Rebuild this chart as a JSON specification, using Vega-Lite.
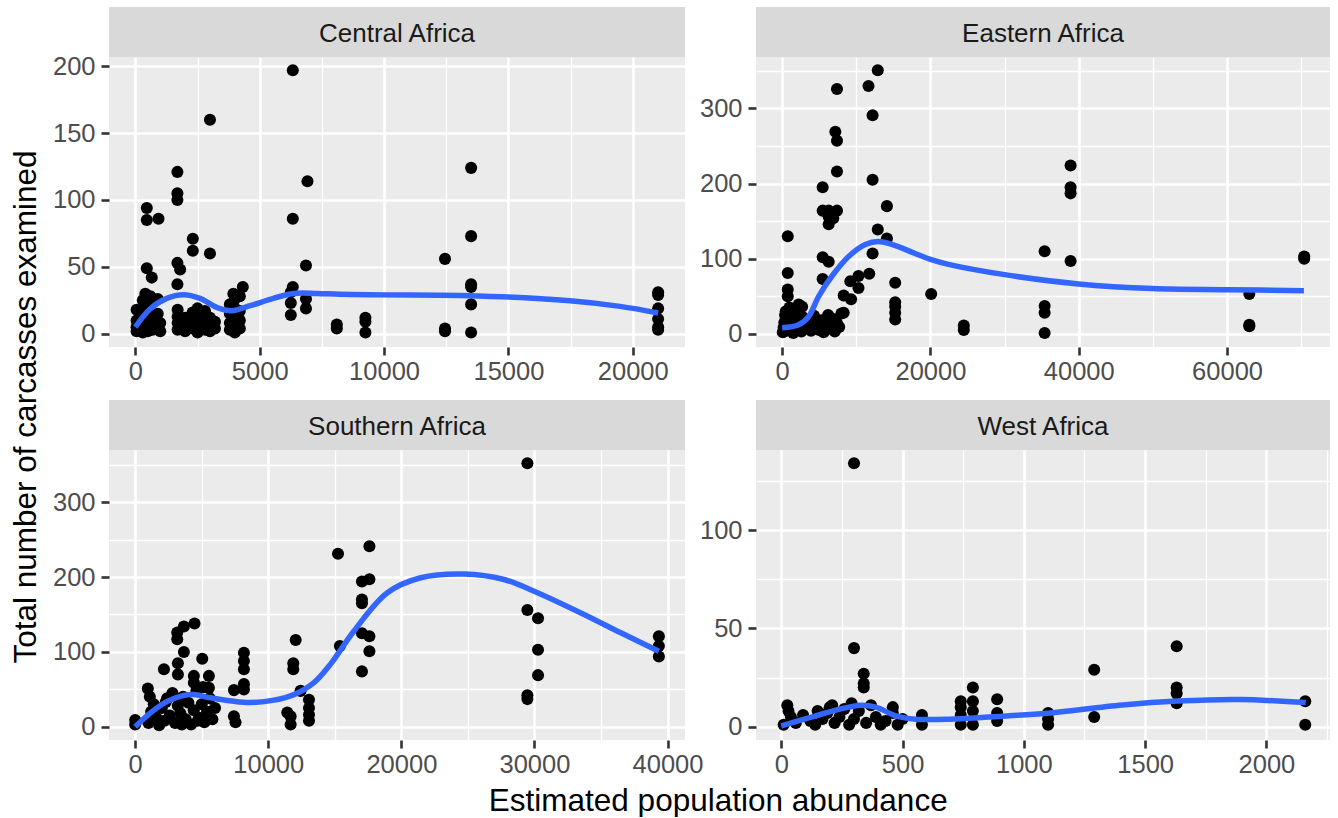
{
  "$schema": "https://vega.github.io/schema/vega-lite/v6.json",
  "padding": {"left": 10, "top": 7, "right": 5, "bottom": 0},
  "background": "white",
  "title": {"text": "Total number of carcasses examined", "orient": "left", "offset": 10, "dx": 5},
  "datasets": {
    "pts": [
      {"region": "Central Africa", "x": 6330, "y": 197}, {"region": "Central Africa", "x": 3000, "y": 160},
      {"region": "Central Africa", "x": 1690, "y": 121}, {"region": "Central Africa", "x": 1690, "y": 105},
      {"region": "Central Africa", "x": 1690, "y": 100}, {"region": "Central Africa", "x": 6920, "y": 114},
      {"region": "Central Africa", "x": 460, "y": 94}, {"region": "Central Africa", "x": 460, "y": 85},
      {"region": "Central Africa", "x": 930, "y": 86}, {"region": "Central Africa", "x": 6330, "y": 86},
      {"region": "Central Africa", "x": 2310, "y": 71}, {"region": "Central Africa", "x": 2310, "y": 62},
      {"region": "Central Africa", "x": 3000, "y": 60}, {"region": "Central Africa", "x": 1690, "y": 53},
      {"region": "Central Africa", "x": 1800, "y": 48}, {"region": "Central Africa", "x": 6860, "y": 51},
      {"region": "Central Africa", "x": 460, "y": 49}, {"region": "Central Africa", "x": 660, "y": 42},
      {"region": "Central Africa", "x": 1690, "y": 37}, {"region": "Central Africa", "x": 4320, "y": 35},
      {"region": "Central Africa", "x": 3940, "y": 30}, {"region": "Central Africa", "x": 6330, "y": 35},
      {"region": "Central Africa", "x": 6250, "y": 31}, {"region": "Central Africa", "x": 6250, "y": 23},
      {"region": "Central Africa", "x": 6250, "y": 14}, {"region": "Central Africa", "x": 6860, "y": 26},
      {"region": "Central Africa", "x": 6860, "y": 19}, {"region": "Central Africa", "x": 8100, "y": 4},
      {"region": "Central Africa", "x": 8100, "y": 7}, {"region": "Central Africa", "x": 9250, "y": 12},
      {"region": "Central Africa", "x": 9250, "y": 9}, {"region": "Central Africa", "x": 9250, "y": 1},
      {"region": "Central Africa", "x": 12450, "y": 56}, {"region": "Central Africa", "x": 12450, "y": 2},
      {"region": "Central Africa", "x": 12450, "y": 4}, {"region": "Central Africa", "x": 13500, "y": 124},
      {"region": "Central Africa", "x": 13500, "y": 73}, {"region": "Central Africa", "x": 13500, "y": 37},
      {"region": "Central Africa", "x": 13500, "y": 35}, {"region": "Central Africa", "x": 13500, "y": 22},
      {"region": "Central Africa", "x": 13500, "y": 1}, {"region": "Central Africa", "x": 21020, "y": 31},
      {"region": "Central Africa", "x": 21020, "y": 29}, {"region": "Central Africa", "x": 21020, "y": 19},
      {"region": "Central Africa", "x": 21020, "y": 11}, {"region": "Central Africa", "x": 21020, "y": 5},
      {"region": "Central Africa", "x": 21020, "y": 3},
      {"region": "Central Africa", "x": 50, "y": 2}, {"region": "Central Africa", "x": 50, "y": 5},
      {"region": "Central Africa", "x": 50, "y": 10}, {"region": "Central Africa", "x": 50, "y": 18},
      {"region": "Central Africa", "x": 200, "y": 3}, {"region": "Central Africa", "x": 200, "y": 8},
      {"region": "Central Africa", "x": 200, "y": 14}, {"region": "Central Africa", "x": 300, "y": 1},
      {"region": "Central Africa", "x": 300, "y": 6}, {"region": "Central Africa", "x": 300, "y": 25},
      {"region": "Central Africa", "x": 400, "y": 4}, {"region": "Central Africa", "x": 400, "y": 12},
      {"region": "Central Africa", "x": 400, "y": 20}, {"region": "Central Africa", "x": 400, "y": 30},
      {"region": "Central Africa", "x": 500, "y": 2}, {"region": "Central Africa", "x": 500, "y": 9},
      {"region": "Central Africa", "x": 500, "y": 16}, {"region": "Central Africa", "x": 600, "y": 5},
      {"region": "Central Africa", "x": 600, "y": 22}, {"region": "Central Africa", "x": 600, "y": 28},
      {"region": "Central Africa", "x": 700, "y": 3}, {"region": "Central Africa", "x": 700, "y": 11},
      {"region": "Central Africa", "x": 900, "y": 6}, {"region": "Central Africa", "x": 900, "y": 15},
      {"region": "Central Africa", "x": 900, "y": 26}, {"region": "Central Africa", "x": 1000, "y": 2},
      {"region": "Central Africa", "x": 1000, "y": 8}, {"region": "Central Africa", "x": 1700, "y": 3},
      {"region": "Central Africa", "x": 1700, "y": 8}, {"region": "Central Africa", "x": 1700, "y": 13},
      {"region": "Central Africa", "x": 1700, "y": 18}, {"region": "Central Africa", "x": 2000, "y": 2},
      {"region": "Central Africa", "x": 2000, "y": 6}, {"region": "Central Africa", "x": 2000, "y": 12},
      {"region": "Central Africa", "x": 2300, "y": 4}, {"region": "Central Africa", "x": 2300, "y": 9},
      {"region": "Central Africa", "x": 2300, "y": 16}, {"region": "Central Africa", "x": 2500, "y": 1},
      {"region": "Central Africa", "x": 2500, "y": 7}, {"region": "Central Africa", "x": 2500, "y": 14},
      {"region": "Central Africa", "x": 2500, "y": 19}, {"region": "Central Africa", "x": 2800, "y": 3},
      {"region": "Central Africa", "x": 2800, "y": 10}, {"region": "Central Africa", "x": 2800, "y": 17},
      {"region": "Central Africa", "x": 3000, "y": 2}, {"region": "Central Africa", "x": 3000, "y": 6},
      {"region": "Central Africa", "x": 3000, "y": 12}, {"region": "Central Africa", "x": 3200, "y": 4},
      {"region": "Central Africa", "x": 3200, "y": 9}, {"region": "Central Africa", "x": 3800, "y": 3},
      {"region": "Central Africa", "x": 3800, "y": 8}, {"region": "Central Africa", "x": 3800, "y": 15},
      {"region": "Central Africa", "x": 3800, "y": 22}, {"region": "Central Africa", "x": 4000, "y": 1},
      {"region": "Central Africa", "x": 4000, "y": 6}, {"region": "Central Africa", "x": 4000, "y": 12},
      {"region": "Central Africa", "x": 4000, "y": 19}, {"region": "Central Africa", "x": 4000, "y": 26},
      {"region": "Central Africa", "x": 4200, "y": 4}, {"region": "Central Africa", "x": 4200, "y": 10},
      {"region": "Central Africa", "x": 4200, "y": 17}, {"region": "Central Africa", "x": 4200, "y": 28},

      {"region": "Eastern Africa", "x": 12900, "y": 351}, {"region": "Eastern Africa", "x": 7400, "y": 326},
      {"region": "Eastern Africa", "x": 11650, "y": 330}, {"region": "Eastern Africa", "x": 12200, "y": 291},
      {"region": "Eastern Africa", "x": 7180, "y": 269}, {"region": "Eastern Africa", "x": 7400, "y": 257},
      {"region": "Eastern Africa", "x": 7400, "y": 216}, {"region": "Eastern Africa", "x": 12200, "y": 205},
      {"region": "Eastern Africa", "x": 5470, "y": 195}, {"region": "Eastern Africa", "x": 14130, "y": 170},
      {"region": "Eastern Africa", "x": 5470, "y": 164}, {"region": "Eastern Africa", "x": 6280, "y": 164},
      {"region": "Eastern Africa", "x": 7400, "y": 164}, {"region": "Eastern Africa", "x": 6280, "y": 156},
      {"region": "Eastern Africa", "x": 6280, "y": 146}, {"region": "Eastern Africa", "x": 6900, "y": 154},
      {"region": "Eastern Africa", "x": 12900, "y": 139}, {"region": "Eastern Africa", "x": 760, "y": 130},
      {"region": "Eastern Africa", "x": 14130, "y": 127}, {"region": "Eastern Africa", "x": 12200, "y": 107},
      {"region": "Eastern Africa", "x": 5470, "y": 102}, {"region": "Eastern Africa", "x": 6280, "y": 96},
      {"region": "Eastern Africa", "x": 760, "y": 81}, {"region": "Eastern Africa", "x": 5470, "y": 73},
      {"region": "Eastern Africa", "x": 11750, "y": 80}, {"region": "Eastern Africa", "x": 10300, "y": 77},
      {"region": "Eastern Africa", "x": 9200, "y": 70}, {"region": "Eastern Africa", "x": 10300, "y": 61},
      {"region": "Eastern Africa", "x": 8300, "y": 51}, {"region": "Eastern Africa", "x": 9300, "y": 46},
      {"region": "Eastern Africa", "x": 15250, "y": 68}, {"region": "Eastern Africa", "x": 15250, "y": 42},
      {"region": "Eastern Africa", "x": 15250, "y": 36}, {"region": "Eastern Africa", "x": 15250, "y": 28},
      {"region": "Eastern Africa", "x": 15250, "y": 19}, {"region": "Eastern Africa", "x": 20100, "y": 53},
      {"region": "Eastern Africa", "x": 8300, "y": 28}, {"region": "Eastern Africa", "x": 760, "y": 59},
      {"region": "Eastern Africa", "x": 760, "y": 50}, {"region": "Eastern Africa", "x": 2240, "y": 39},
      {"region": "Eastern Africa", "x": 24500, "y": 5}, {"region": "Eastern Africa", "x": 24500, "y": 11},
      {"region": "Eastern Africa", "x": 35400, "y": 110}, {"region": "Eastern Africa", "x": 35400, "y": 37},
      {"region": "Eastern Africa", "x": 35400, "y": 28}, {"region": "Eastern Africa", "x": 35400, "y": 1},
      {"region": "Eastern Africa", "x": 38900, "y": 224}, {"region": "Eastern Africa", "x": 38900, "y": 195},
      {"region": "Eastern Africa", "x": 38900, "y": 187}, {"region": "Eastern Africa", "x": 38900, "y": 97},
      {"region": "Eastern Africa", "x": 63000, "y": 53}, {"region": "Eastern Africa", "x": 63000, "y": 10},
      {"region": "Eastern Africa", "x": 63000, "y": 12}, {"region": "Eastern Africa", "x": 70400, "y": 103},
      {"region": "Eastern Africa", "x": 70400, "y": 100},
      {"region": "Eastern Africa", "x": 100, "y": 2}, {"region": "Eastern Africa", "x": 200, "y": 8},
      {"region": "Eastern Africa", "x": 300, "y": 15}, {"region": "Eastern Africa", "x": 400, "y": 25},
      {"region": "Eastern Africa", "x": 500, "y": 30}, {"region": "Eastern Africa", "x": 600, "y": 4},
      {"region": "Eastern Africa", "x": 800, "y": 12}, {"region": "Eastern Africa", "x": 900, "y": 20},
      {"region": "Eastern Africa", "x": 1000, "y": 35}, {"region": "Eastern Africa", "x": 1200, "y": 5},
      {"region": "Eastern Africa", "x": 1300, "y": 18}, {"region": "Eastern Africa", "x": 1500, "y": 1},
      {"region": "Eastern Africa", "x": 1700, "y": 10}, {"region": "Eastern Africa", "x": 1900, "y": 28},
      {"region": "Eastern Africa", "x": 2100, "y": 6}, {"region": "Eastern Africa", "x": 2300, "y": 15},
      {"region": "Eastern Africa", "x": 2600, "y": 3}, {"region": "Eastern Africa", "x": 2800, "y": 22},
      {"region": "Eastern Africa", "x": 3100, "y": 9}, {"region": "Eastern Africa", "x": 3500, "y": 14},
      {"region": "Eastern Africa", "x": 3900, "y": 4}, {"region": "Eastern Africa", "x": 1400, "y": 33},
      {"region": "Eastern Africa", "x": 2700, "y": 36}, {"region": "Eastern Africa", "x": 4300, "y": 24},
      {"region": "Eastern Africa", "x": 4600, "y": 10}, {"region": "Eastern Africa", "x": 5000, "y": 5},
      {"region": "Eastern Africa", "x": 5300, "y": 18}, {"region": "Eastern Africa", "x": 5600, "y": 2},
      {"region": "Eastern Africa", "x": 5900, "y": 12}, {"region": "Eastern Africa", "x": 6200, "y": 25},
      {"region": "Eastern Africa", "x": 6500, "y": 7}, {"region": "Eastern Africa", "x": 6800, "y": 20},
      {"region": "Eastern Africa", "x": 7100, "y": 3}, {"region": "Eastern Africa", "x": 7400, "y": 14},
      {"region": "Eastern Africa", "x": 7700, "y": 9}, {"region": "Eastern Africa", "x": 8000, "y": 27},

      {"region": "Southern Africa", "x": 29470, "y": 352}, {"region": "Southern Africa", "x": 15240, "y": 231},
      {"region": "Southern Africa", "x": 17600, "y": 241}, {"region": "Southern Africa", "x": 17040, "y": 194},
      {"region": "Southern Africa", "x": 17600, "y": 197}, {"region": "Southern Africa", "x": 17040, "y": 170},
      {"region": "Southern Africa", "x": 17040, "y": 165}, {"region": "Southern Africa", "x": 17040, "y": 125},
      {"region": "Southern Africa", "x": 17600, "y": 121}, {"region": "Southern Africa", "x": 17600, "y": 101},
      {"region": "Southern Africa", "x": 17040, "y": 74}, {"region": "Southern Africa", "x": 15380, "y": 108},
      {"region": "Southern Africa", "x": 29470, "y": 156}, {"region": "Southern Africa", "x": 30270, "y": 145},
      {"region": "Southern Africa", "x": 30270, "y": 103}, {"region": "Southern Africa", "x": 30270, "y": 69},
      {"region": "Southern Africa", "x": 29470, "y": 42}, {"region": "Southern Africa", "x": 29470, "y": 37},
      {"region": "Southern Africa", "x": 39350, "y": 121}, {"region": "Southern Africa", "x": 39350, "y": 108},
      {"region": "Southern Africa", "x": 39350, "y": 94},
      {"region": "Southern Africa", "x": 4460, "y": 138}, {"region": "Southern Africa", "x": 3660, "y": 134},
      {"region": "Southern Africa", "x": 3160, "y": 126}, {"region": "Southern Africa", "x": 3160, "y": 117},
      {"region": "Southern Africa", "x": 12060, "y": 116}, {"region": "Southern Africa", "x": 3660, "y": 100},
      {"region": "Southern Africa", "x": 5040, "y": 91}, {"region": "Southern Africa", "x": 3210, "y": 85},
      {"region": "Southern Africa", "x": 8170, "y": 99}, {"region": "Southern Africa", "x": 8170, "y": 88},
      {"region": "Southern Africa", "x": 8170, "y": 77}, {"region": "Southern Africa", "x": 8170, "y": 57},
      {"region": "Southern Africa", "x": 8170, "y": 50}, {"region": "Southern Africa", "x": 7420, "y": 49},
      {"region": "Southern Africa", "x": 2160, "y": 77}, {"region": "Southern Africa", "x": 3210, "y": 70},
      {"region": "Southern Africa", "x": 11880, "y": 85}, {"region": "Southern Africa", "x": 11880, "y": 77},
      {"region": "Southern Africa", "x": 4410, "y": 68}, {"region": "Southern Africa", "x": 5540, "y": 68},
      {"region": "Southern Africa", "x": 4410, "y": 59}, {"region": "Southern Africa", "x": 5540, "y": 52},
      {"region": "Southern Africa", "x": 5100, "y": 53}, {"region": "Southern Africa", "x": 950, "y": 51},
      {"region": "Southern Africa", "x": 12430, "y": 48}, {"region": "Southern Africa", "x": 13060, "y": 36},
      {"region": "Southern Africa", "x": 13060, "y": 25}, {"region": "Southern Africa", "x": 13060, "y": 16},
      {"region": "Southern Africa", "x": 13060, "y": 8}, {"region": "Southern Africa", "x": 11430, "y": 19},
      {"region": "Southern Africa", "x": 11680, "y": 14}, {"region": "Southern Africa", "x": 11680, "y": 3},
      {"region": "Southern Africa", "x": 7420, "y": 14}, {"region": "Southern Africa", "x": 7540, "y": 6},
      {"region": "Southern Africa", "x": 0, "y": 9}, {"region": "Southern Africa", "x": 0, "y": 3},
      {"region": "Southern Africa", "x": 1000, "y": 5}, {"region": "Southern Africa", "x": 1200, "y": 20},
      {"region": "Southern Africa", "x": 1400, "y": 30}, {"region": "Southern Africa", "x": 1600, "y": 12},
      {"region": "Southern Africa", "x": 1800, "y": 2}, {"region": "Southern Africa", "x": 2000, "y": 25},
      {"region": "Southern Africa", "x": 2200, "y": 8}, {"region": "Southern Africa", "x": 2400, "y": 38},
      {"region": "Southern Africa", "x": 2600, "y": 15}, {"region": "Southern Africa", "x": 2800, "y": 45},
      {"region": "Southern Africa", "x": 3000, "y": 5}, {"region": "Southern Africa", "x": 3200, "y": 28},
      {"region": "Southern Africa", "x": 3400, "y": 18}, {"region": "Southern Africa", "x": 3600, "y": 40},
      {"region": "Southern Africa", "x": 3800, "y": 10}, {"region": "Southern Africa", "x": 4000, "y": 32},
      {"region": "Southern Africa", "x": 4200, "y": 3}, {"region": "Southern Africa", "x": 4400, "y": 22},
      {"region": "Southern Africa", "x": 4600, "y": 48}, {"region": "Southern Africa", "x": 4800, "y": 12},
      {"region": "Southern Africa", "x": 5000, "y": 30}, {"region": "Southern Africa", "x": 5200, "y": 6},
      {"region": "Southern Africa", "x": 5400, "y": 20}, {"region": "Southern Africa", "x": 5600, "y": 38},
      {"region": "Southern Africa", "x": 5800, "y": 10}, {"region": "Southern Africa", "x": 6000, "y": 25},
      {"region": "Southern Africa", "x": 1100, "y": 40}, {"region": "Southern Africa", "x": 2300, "y": 33},
      {"region": "Southern Africa", "x": 3500, "y": 3}, {"region": "Southern Africa", "x": 4700, "y": 8},

      {"region": "West Africa", "x": 300, "y": 134}, {"region": "West Africa", "x": 300, "y": 40},
      {"region": "West Africa", "x": 340, "y": 27}, {"region": "West Africa", "x": 340, "y": 22},
      {"region": "West Africa", "x": 340, "y": 20}, {"region": "West Africa", "x": 25, "y": 11},
      {"region": "West Africa", "x": 210, "y": 11}, {"region": "West Africa", "x": 150, "y": 8},
      {"region": "West Africa", "x": 460, "y": 10}, {"region": "West Africa", "x": 460, "y": 7},
      {"region": "West Africa", "x": 580, "y": 6}, {"region": "West Africa", "x": 580, "y": 4},
      {"region": "West Africa", "x": 580, "y": 1}, {"region": "West Africa", "x": 740, "y": 13},
      {"region": "West Africa", "x": 740, "y": 10}, {"region": "West Africa", "x": 740, "y": 6},
      {"region": "West Africa", "x": 740, "y": 1}, {"region": "West Africa", "x": 790, "y": 20},
      {"region": "West Africa", "x": 790, "y": 13}, {"region": "West Africa", "x": 790, "y": 8},
      {"region": "West Africa", "x": 790, "y": 1}, {"region": "West Africa", "x": 890, "y": 14},
      {"region": "West Africa", "x": 890, "y": 7}, {"region": "West Africa", "x": 890, "y": 3},
      {"region": "West Africa", "x": 1100, "y": 7}, {"region": "West Africa", "x": 1100, "y": 4},
      {"region": "West Africa", "x": 1100, "y": 1}, {"region": "West Africa", "x": 1290, "y": 29},
      {"region": "West Africa", "x": 1290, "y": 5}, {"region": "West Africa", "x": 1630, "y": 41},
      {"region": "West Africa", "x": 1630, "y": 20}, {"region": "West Africa", "x": 1630, "y": 17},
      {"region": "West Africa", "x": 1630, "y": 12}, {"region": "West Africa", "x": 2160, "y": 13},
      {"region": "West Africa", "x": 2160, "y": 1},
      {"region": "West Africa", "x": 10, "y": 1}, {"region": "West Africa", "x": 40, "y": 5},
      {"region": "West Africa", "x": 60, "y": 2}, {"region": "West Africa", "x": 90, "y": 6},
      {"region": "West Africa", "x": 120, "y": 3}, {"region": "West Africa", "x": 140, "y": 1},
      {"region": "West Africa", "x": 170, "y": 4}, {"region": "West Africa", "x": 190, "y": 7},
      {"region": "West Africa", "x": 220, "y": 2}, {"region": "West Africa", "x": 240, "y": 5},
      {"region": "West Africa", "x": 260, "y": 9}, {"region": "West Africa", "x": 280, "y": 1},
      {"region": "West Africa", "x": 300, "y": 4}, {"region": "West Africa", "x": 320, "y": 8},
      {"region": "West Africa", "x": 350, "y": 2}, {"region": "West Africa", "x": 370, "y": 11},
      {"region": "West Africa", "x": 390, "y": 5}, {"region": "West Africa", "x": 410, "y": 1},
      {"region": "West Africa", "x": 430, "y": 3}, {"region": "West Africa", "x": 480, "y": 1},
      {"region": "West Africa", "x": 500, "y": 4}, {"region": "West Africa", "x": 30, "y": 8},
      {"region": "West Africa", "x": 200, "y": 10}, {"region": "West Africa", "x": 290, "y": 12}
    ],
    "fit": [
      {"region": "Central Africa", "x": 0, "y": 5}, {"region": "Central Africa", "x": 590, "y": 18.6},
      {"region": "Central Africa", "x": 1260, "y": 26.5}, {"region": "Central Africa", "x": 1930, "y": 29.2},
      {"region": "Central Africa", "x": 2600, "y": 26.5}, {"region": "Central Africa", "x": 3270, "y": 19.8},
      {"region": "Central Africa", "x": 3870, "y": 17.3}, {"region": "Central Africa", "x": 4610, "y": 21},
      {"region": "Central Africa", "x": 5550, "y": 26.5}, {"region": "Central Africa", "x": 6350, "y": 30.2},
      {"region": "Central Africa", "x": 7290, "y": 30.2}, {"region": "Central Africa", "x": 8230, "y": 29.5},
      {"region": "Central Africa", "x": 10000, "y": 29.1}, {"region": "Central Africa", "x": 13500, "y": 28.5},
      {"region": "Central Africa", "x": 17480, "y": 24.7}, {"region": "Central Africa", "x": 19490, "y": 20.5},
      {"region": "Central Africa", "x": 21020, "y": 15.6},

      {"region": "Eastern Africa", "x": 0, "y": 8}, {"region": "Eastern Africa", "x": 2240, "y": 12},
      {"region": "Eastern Africa", "x": 3590, "y": 23}, {"region": "Eastern Africa", "x": 4930, "y": 50},
      {"region": "Eastern Africa", "x": 6730, "y": 77}, {"region": "Eastern Africa", "x": 8970, "y": 103},
      {"region": "Eastern Africa", "x": 11210, "y": 119}, {"region": "Eastern Africa", "x": 13000, "y": 123},
      {"region": "Eastern Africa", "x": 14800, "y": 119}, {"region": "Eastern Africa", "x": 17940, "y": 107},
      {"region": "Eastern Africa", "x": 20000, "y": 99}, {"region": "Eastern Africa", "x": 22420, "y": 92.5},
      {"region": "Eastern Africa", "x": 30000, "y": 78.8}, {"region": "Eastern Africa", "x": 39960, "y": 66.4},
      {"region": "Eastern Africa", "x": 50000, "y": 60.2}, {"region": "Eastern Africa", "x": 59960, "y": 58.8},
      {"region": "Eastern Africa", "x": 70360, "y": 57.5},

      {"region": "Southern Africa", "x": 0, "y": 0}, {"region": "Southern Africa", "x": 1150, "y": 18.7},
      {"region": "Southern Africa", "x": 2410, "y": 34}, {"region": "Southern Africa", "x": 3660, "y": 42},
      {"region": "Southern Africa", "x": 4410, "y": 43}, {"region": "Southern Africa", "x": 5660, "y": 38.7},
      {"region": "Southern Africa", "x": 7420, "y": 34}, {"region": "Southern Africa", "x": 8670, "y": 32.5},
      {"region": "Southern Africa", "x": 10430, "y": 35.6}, {"region": "Southern Africa", "x": 11930, "y": 43},
      {"region": "Southern Africa", "x": 13430, "y": 59}, {"region": "Southern Africa", "x": 14690, "y": 84},
      {"region": "Southern Africa", "x": 16440, "y": 128}, {"region": "Southern Africa", "x": 18950, "y": 179},
      {"region": "Southern Africa", "x": 21450, "y": 199}, {"region": "Southern Africa", "x": 24710, "y": 204},
      {"region": "Southern Africa", "x": 27710, "y": 196.7}, {"region": "Southern Africa", "x": 30230, "y": 179},
      {"region": "Southern Africa", "x": 33990, "y": 147.7}, {"region": "Southern Africa", "x": 36490, "y": 125.5},
      {"region": "Southern Africa", "x": 39350, "y": 101},

      {"region": "West Africa", "x": 0, "y": 0.5}, {"region": "West Africa", "x": 142, "y": 5.6},
      {"region": "West Africa", "x": 238, "y": 8.9}, {"region": "West Africa", "x": 328, "y": 11},
      {"region": "West Africa", "x": 390, "y": 10}, {"region": "West Africa", "x": 472, "y": 5.6},
      {"region": "West Africa", "x": 555, "y": 3.9}, {"region": "West Africa", "x": 693, "y": 3.9},
      {"region": "West Africa", "x": 856, "y": 5}, {"region": "West Africa", "x": 941, "y": 5.6},
      {"region": "West Africa", "x": 1096, "y": 6.9}, {"region": "West Africa", "x": 1406, "y": 11.1},
      {"region": "West Africa", "x": 1632, "y": 13.1}, {"region": "West Africa", "x": 1887, "y": 13.9},
      {"region": "West Africa", "x": 2162, "y": 12.3}
    ]
  },
  "vconcat": [
    {
      "title": {"text": "Estimated population abundance", "orient": "bottom", "offset": 8, "dx": 27},
      "columns": 2,
      "spacing": {"row": 15, "column": -4},
      "concat": [
        {
          "bounds": "flush",
          "spacing": 0,
          "vconcat": [
            {"width": 576, "height": 50, "view": {"fill": "#D9D9D9", "stroke": null},
             "data": {"values": [{"label": "Central Africa"}]},
             "mark": {"type": "text", "fontSize": 26, "color": "#1A1A1A", "font": "Liberation Sans", "dy": 2},
             "encoding": {"text": {"field": "label", "type": "nominal"}}},
            {"width": 576, "height": 290,
             "layer": [
               {"data": {"name": "pts"}, "transform": [{"filter": "datum.region === 'Central Africa'"}],
                "mark": {"type": "circle", "size": 145, "color": "#000000", "opacity": 1},
                "encoding": {
                  "x": {"field": "x", "type": "quantitative", "scale": {"domain": [-1060, 22100], "nice": false, "zero": false},
                        "axis": {"title": null, "values": [0, 2500, 5000, 7500, 10000, 12500, 15000, 17500, 20000],
                                 "labelExpr": "datum.value % 5000 === 0 ? format(datum.value, 'd') : ''",
                                 "gridWidth": {"condition": {"test": "datum.value % 5000 !== 0", "value": 1.3}, "value": 2.6},
                                 "tickOpacity": {"condition": {"test": "datum.value % 5000 !== 0", "value": 0}, "value": 1}}},
                  "y": {"field": "y", "type": "quantitative", "scale": {"domain": [-9.85, 206.85], "nice": false, "zero": false},
                        "axis": {"title": null, "values": [0, 25, 50, 75, 100, 125, 150, 175, 200],
                                 "labelExpr": "datum.value % 50 === 0 ? format(datum.value, 'd') : ''",
                                 "gridWidth": {"condition": {"test": "datum.value % 50 !== 0", "value": 1.3}, "value": 2.6},
                                 "tickOpacity": {"condition": {"test": "datum.value % 50 !== 0", "value": 0}, "value": 1}}}
                }},
               {"data": {"name": "fit"}, "transform": [{"filter": "datum.region === 'Central Africa'"}],
                "mark": {"type": "line", "color": "#3366FF", "strokeWidth": 5.5, "interpolate": "catmull-rom"},
                "encoding": {"x": {"field": "x", "type": "quantitative"}, "y": {"field": "y", "type": "quantitative"}}}
             ]}
          ]
        },
        {
          "bounds": "flush",
          "spacing": 0,
          "vconcat": [
            {"width": 574, "height": 50, "view": {"fill": "#D9D9D9", "stroke": null},
             "data": {"values": [{"label": "Eastern Africa"}]},
             "mark": {"type": "text", "fontSize": 26, "color": "#1A1A1A", "font": "Liberation Sans", "dy": 2},
             "encoding": {"text": {"field": "label", "type": "nominal"}}},
            {"width": 574, "height": 290,
             "layer": [
               {"data": {"name": "pts"}, "transform": [{"filter": "datum.region === 'Eastern Africa'"}],
                "mark": {"type": "circle", "size": 145, "color": "#000000", "opacity": 1},
                "encoding": {
                  "x": {"field": "x", "type": "quantitative", "scale": {"domain": [-3520, 73880], "nice": false, "zero": false},
                        "axis": {"title": null, "values": [0, 10000, 20000, 30000, 40000, 50000, 60000, 70000],
                                 "labelExpr": "datum.value % 20000 === 0 ? format(datum.value, 'd') : ''",
                                 "gridWidth": {"condition": {"test": "datum.value % 20000 !== 0", "value": 1.3}, "value": 2.6},
                                 "tickOpacity": {"condition": {"test": "datum.value % 20000 !== 0", "value": 0}, "value": 1}}},
                  "y": {"field": "y", "type": "quantitative", "scale": {"domain": [-17.55, 368.55], "nice": false, "zero": false},
                        "axis": {"title": null, "values": [0, 50, 100, 150, 200, 250, 300, 350],
                                 "labelExpr": "datum.value % 100 === 0 ? format(datum.value, 'd') : ''",
                                 "gridWidth": {"condition": {"test": "datum.value % 100 !== 0", "value": 1.3}, "value": 2.6},
                                 "tickOpacity": {"condition": {"test": "datum.value % 100 !== 0", "value": 0}, "value": 1}}}
                }},
               {"data": {"name": "fit"}, "transform": [{"filter": "datum.region === 'Eastern Africa'"}],
                "mark": {"type": "line", "color": "#3366FF", "strokeWidth": 5.5, "interpolate": "catmull-rom"},
                "encoding": {"x": {"field": "x", "type": "quantitative"}, "y": {"field": "y", "type": "quantitative"}}}
             ]}
          ]
        },
        {
          "bounds": "flush",
          "spacing": 0,
          "vconcat": [
            {"width": 576, "height": 50, "view": {"fill": "#D9D9D9", "stroke": null},
             "data": {"values": [{"label": "Southern Africa"}]},
             "mark": {"type": "text", "fontSize": 26, "color": "#1A1A1A", "font": "Liberation Sans", "dy": 2},
             "encoding": {"text": {"field": "label", "type": "nominal"}}},
            {"width": 576, "height": 290,
             "layer": [
               {"data": {"name": "pts"}, "transform": [{"filter": "datum.region === 'Southern Africa'"}],
                "mark": {"type": "circle", "size": 145, "color": "#000000", "opacity": 1},
                "encoding": {
                  "x": {"field": "x", "type": "quantitative", "scale": {"domain": [-1967, 41313], "nice": false, "zero": false},
                        "axis": {"title": null, "values": [0, 5000, 10000, 15000, 20000, 25000, 30000, 35000, 40000],
                                 "labelExpr": "datum.value % 10000 === 0 ? format(datum.value, 'd') : ''",
                                 "gridWidth": {"condition": {"test": "datum.value % 10000 !== 0", "value": 1.3}, "value": 2.6},
                                 "tickOpacity": {"condition": {"test": "datum.value % 10000 !== 0", "value": 0}, "value": 1}}},
                  "y": {"field": "y", "type": "quantitative", "scale": {"domain": [-17.6, 369.6], "nice": false, "zero": false},
                        "axis": {"title": null, "values": [0, 50, 100, 150, 200, 250, 300, 350],
                                 "labelExpr": "datum.value % 100 === 0 ? format(datum.value, 'd') : ''",
                                 "gridWidth": {"condition": {"test": "datum.value % 100 !== 0", "value": 1.3}, "value": 2.6},
                                 "tickOpacity": {"condition": {"test": "datum.value % 100 !== 0", "value": 0}, "value": 1}}}
                }},
               {"data": {"name": "fit"}, "transform": [{"filter": "datum.region === 'Southern Africa'"}],
                "mark": {"type": "line", "color": "#3366FF", "strokeWidth": 5.5, "interpolate": "catmull-rom"},
                "encoding": {"x": {"field": "x", "type": "quantitative"}, "y": {"field": "y", "type": "quantitative"}}}
             ]}
          ]
        },
        {
          "bounds": "flush",
          "spacing": 0,
          "vconcat": [
            {"width": 574, "height": 50, "view": {"fill": "#D9D9D9", "stroke": null},
             "data": {"values": [{"label": "West Africa"}]},
             "mark": {"type": "text", "fontSize": 26, "color": "#1A1A1A", "font": "Liberation Sans", "dy": 2},
             "encoding": {"text": {"field": "label", "type": "nominal"}}},
            {"width": 574, "height": 290,
             "layer": [
               {"data": {"name": "pts"}, "transform": [{"filter": "datum.region === 'West Africa'"}],
                "mark": {"type": "circle", "size": 145, "color": "#000000", "opacity": 1},
                "encoding": {
                  "x": {"field": "x", "type": "quantitative", "scale": {"domain": [-104, 2262], "nice": false, "zero": false},
                        "axis": {"title": null, "values": [0, 250, 500, 750, 1000, 1250, 1500, 1750, 2000, 2250],
                                 "labelExpr": "datum.value % 500 === 0 ? format(datum.value, 'd') : ''",
                                 "gridWidth": {"condition": {"test": "datum.value % 500 !== 0", "value": 1.3}, "value": 2.6},
                                 "tickOpacity": {"condition": {"test": "datum.value % 500 !== 0", "value": 0}, "value": 1}}},
                  "y": {"field": "y", "type": "quantitative", "scale": {"domain": [-6.7, 140.7], "nice": false, "zero": false},
                        "axis": {"title": null, "values": [0, 25, 50, 75, 100, 125],
                                 "labelExpr": "datum.value % 50 === 0 ? format(datum.value, 'd') : ''",
                                 "gridWidth": {"condition": {"test": "datum.value % 50 !== 0", "value": 1.3}, "value": 2.6},
                                 "tickOpacity": {"condition": {"test": "datum.value % 50 !== 0", "value": 0}, "value": 1}}}
                }},
               {"data": {"name": "fit"}, "transform": [{"filter": "datum.region === 'West Africa'"}],
                "mark": {"type": "line", "color": "#3366FF", "strokeWidth": 5.5, "interpolate": "catmull-rom"},
                "encoding": {"x": {"field": "x", "type": "quantitative"}, "y": {"field": "y", "type": "quantitative"}}}
             ]}
          ]
        }
      ]
    }
  ],
  "config": {
    "font": "Liberation Sans",
    "view": {"fill": "#EBEBEB", "stroke": null},
    "axis": {"domain": false, "grid": true, "gridColor": "#FFFFFF", "tickColor": "#333333", "tickSize": 8, "tickWidth": 2.6,
             "labelColor": "#4D4D4D", "labelFontSize": 25.5, "labelFont": "Liberation Sans", "labelOverlap": false, "labelFlush": false},
    "axisX": {"labelPadding": 4},
    "axisY": {"labelPadding": 6},
    "title": {"font": "Liberation Sans", "fontSize": 31.5, "fontWeight": "normal", "color": "#000000", "anchor": "middle"}
  }
}
